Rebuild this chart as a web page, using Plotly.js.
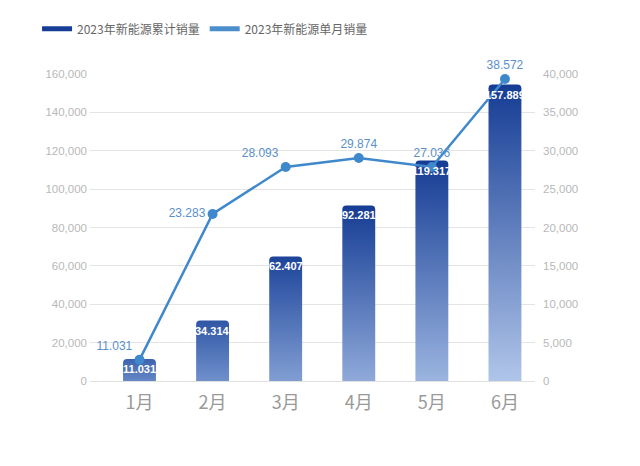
<!DOCTYPE html>
<html>
<head>
<meta charset="utf-8">
<script src="https://cdn.plot.ly/plotly-3.0.1.min.js"></script>
<style>
  html, body { margin: 0; padding: 0; background: #ffffff; }
  #chart { width: 640px; height: 466px; }
</style>
</head>
<body>
<div id="chart"></div>
<script>
// ---- data ----
const months = ['1月', '2月', '3月', '4月', '5月', '6月'];
const cumulativeName = '2023年新能源累计销量';
const monthlyName = '2023年新能源单月销量';
// bar heights as drawn in the picture
const cumulative = [11460, 31500, 64900, 91500, 114900, 154500];
const cumulativeLabels = ['11.031', '34.314', '62.407', '92.281', '119.317', '157.889'];
// line points as drawn in the picture (right axis)
const monthly = [2760, 21760, 27880, 29050, 27880, 39350];
const monthlyLabels = ['11.031', '23.283', '28.093', '29.874', '27.036', '38.572'];
const monthlyLabelPos = ['top left', 'middle left', 'top left', 'top center', 'top center', 'top center'];

const leftMax = 160000, rightMax = 40000;
const font = '"Noto Sans CJK SC", "Noto Sans", sans-serif';
const numFont = '"Liberation Sans", Arial, sans-serif';
const lineColor = '#3f88cc';
const darkBlue = '#173e96';

const data = [
  {
    type: 'bar', x: months, y: cumulative, name: cumulativeName,
    marker: { color: darkBlue, cornerradius: 4 },
    width: 0.45, showlegend: false, hoverinfo: 'skip'
  },
  {
    type: 'scatter', mode: 'lines+markers+text', x: months, y: monthly, yaxis: 'y2',
    name: monthlyName, text: monthlyLabels, textposition: monthlyLabelPos,
    textfont: { family: numFont, size: 12, color: '#5a8fca' },
    line: { color: lineColor, width: 2.5 },
    marker: { color: lineColor, size: 10 },
    showlegend: false, hoverinfo: 'skip', cliponaxis: false
  },
  {
    type: 'scatter', mode: 'lines', x: [months[0]], y: [null], name: cumulativeName,
    line: { color: darkBlue, width: 5 }, showlegend: true
  },
  {
    type: 'scatter', mode: 'lines', x: [months[0]], y: [null], name: monthlyName, yaxis: 'y2',
    line: { color: '#4a8fcc', width: 5 }, showlegend: true
  }
];

const annotations = months.map((m, i) => ({
  x: m, y: cumulative[i], xref: 'x', yref: 'y',
  text: '<b>' + cumulativeLabels[i] + '</b>', showarrow: false,
  yshift: -10, xanchor: 'center', yanchor: 'middle',
  font: { family: numFont, size: 11, color: '#ffffff' }
}));

const layout = {
  width: 640, height: 466,
  margin: { l: 90, r: 105, t: 74, b: 85 },
  paper_bgcolor: '#ffffff', plot_bgcolor: '#ffffff',
  font: { family: font },
  showlegend: true,
  legend: {
    orientation: 'h', x: -0.119, xanchor: 'left', y: 1.147, yanchor: 'middle',
    font: { family: font, size: 12, color: '#666666' },
    itemwidth: 30, traceorder: 'normal'
  },
  xaxis: {
    type: 'category', range: [-0.677, 5.411],
    showgrid: false, zeroline: false, showline: false, ticks: '',
    tickfont: { family: font, size: 18, color: '#999999' },
    ticklabelstandoff: 9
  },
  yaxis: {
    range: [0, leftMax], dtick: 20000, tickformat: ',',
    showgrid: true, gridcolor: '#e4e4e4', gridwidth: 1,
    zeroline: true, zerolinecolor: '#e0e0e0', zerolinewidth: 1,
    showline: false, ticks: '',
    tickfont: { family: numFont, size: 11.5, color: '#b8b8b8' },
    ticklabelstandoff: 2
  },
  yaxis2: {
    overlaying: 'y', side: 'right', range: [0, rightMax], dtick: 5000, tickformat: ',',
    showgrid: false, zeroline: false, showline: false, ticks: '',
    tickfont: { family: numFont, size: 11.5, color: '#b8b8b8' },
    ticklabelstandoff: 7
  },
  annotations: annotations
};

function hexToRgb(h) { h = h.replace('#', ''); return [0, 2, 4].map(k => parseInt(h.substr(k, 2), 16)); }
function mix(a, b, t) {
  const A = hexToRgb(a), B = hexToRgb(b);
  return 'rgb(' + A.map((v, k) => Math.round(v + (B[k] - v) * t)).join(',') + ')';
}

Plotly.newPlot('chart', data, layout, { staticPlot: true, displayModeBar: false }).then(gd => {
  const svg = gd.querySelector('.main-svg');
  const ns = 'http://www.w3.org/2000/svg';
  let defs = svg.querySelector('defs');
  if (!defs) { defs = document.createElementNS(ns, 'defs'); svg.insertBefore(defs, svg.firstChild); }
  const paths = gd.querySelectorAll('.barlayer .point path');
  paths.forEach((p, i) => {
    const h = cumulative[i] / leftMax;
    const top = mix('#4169b2', '#153c94', Math.min(1, h * 2));
    const bottom = mix('#5f82c3', '#b3c7ea', h);
    const g = document.createElementNS(ns, 'linearGradient');
    g.setAttribute('id', 'barGrad' + i);
    g.setAttribute('x1', '0'); g.setAttribute('y1', '0');
    g.setAttribute('x2', '0'); g.setAttribute('y2', '1');
    [[0, top], [1, bottom]].forEach(([o, c]) => {
      const s = document.createElementNS(ns, 'stop');
      s.setAttribute('offset', o); s.setAttribute('stop-color', c);
      g.appendChild(s);
    });
    defs.appendChild(g);
    p.style.fill = 'url(#barGrad' + i + ')';
  });
});
</script>
</body>
</html>
